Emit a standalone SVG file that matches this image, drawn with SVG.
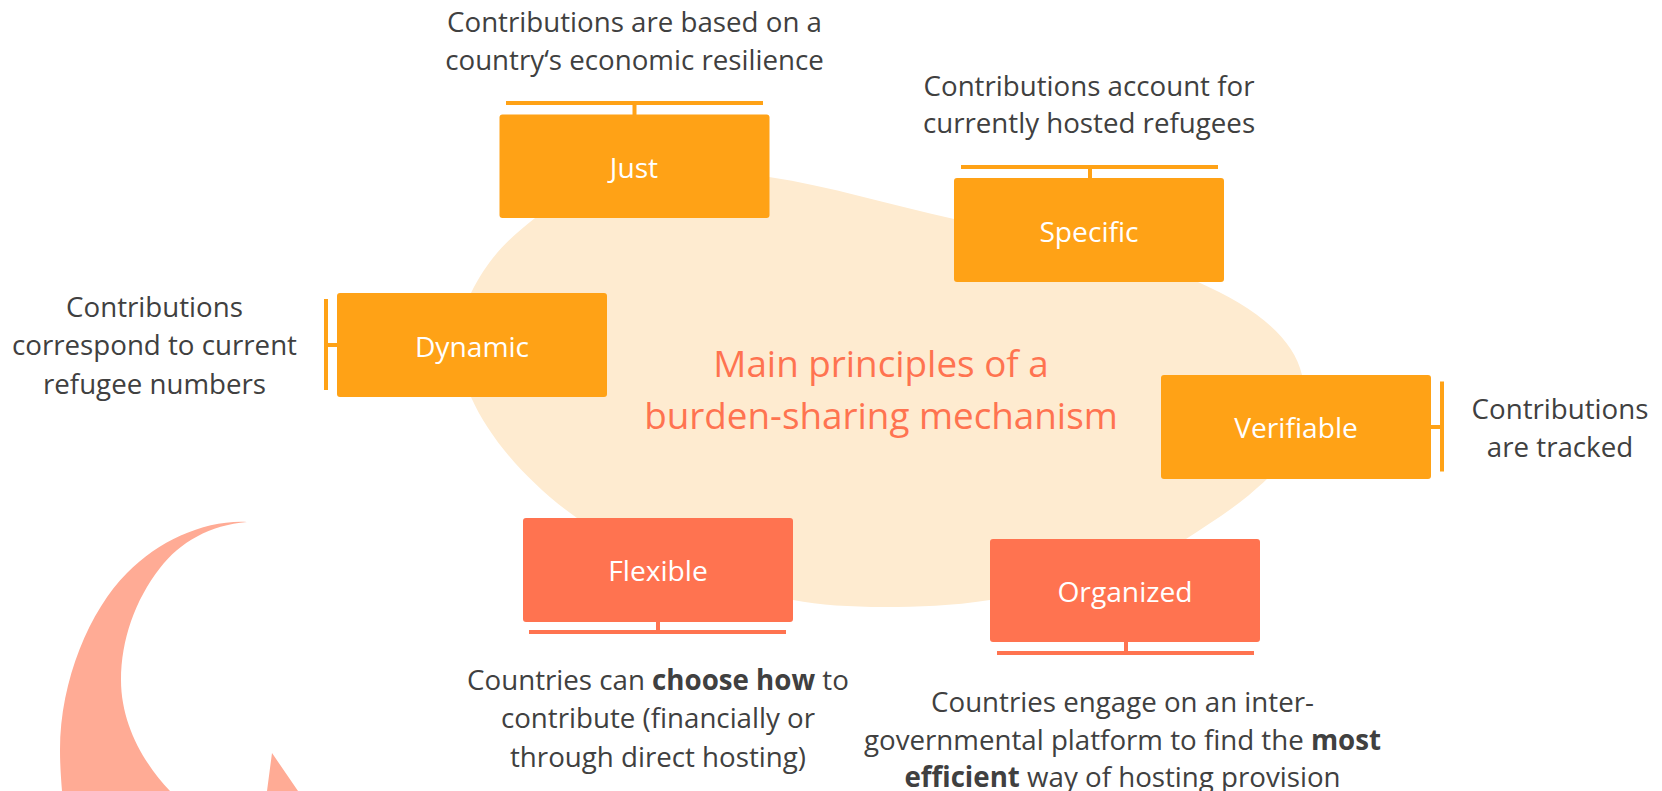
<svg xmlns="http://www.w3.org/2000/svg" width="1662" height="791" viewBox="0 0 1662 791">
<style>
text{font-family:"Open Sans","Noto Sans","Liberation Sans",sans-serif;text-anchor:middle}
.d{font-size:27.700px;fill:#404040}
.l{font-size:28.200px;fill:#fff}
.t{font-size:36.800px;fill:#ff7350}
.o{fill:#ffa216}
.r{fill:#ff7350}
.b{font-weight:700}
</style>
<rect width="1662" height="791" fill="#fff"/>
<path id="blob" fill="#feebd0" d="M471 293C490 255 510 238 535 218C590 178 690 165 769 177C830 186 890 205 954 219C1000 230 1110 245 1198 282C1250 305 1293 335 1302 375C1310 410 1293 445 1268 478C1240 505 1215 520 1186 539C1130 575 1060 590 990 600C950 606 920 607 884 607C850 607 820 605 793 600C700 585 630 555 577 518C530 485 490 440 471 397C460 365 455 325 471 293Z"/>
<path id="crescent" fill="#ffab95" d="M247 522C205 520 160 540 127 573C90 610 60 680 60 750C60 765 61 778 62 791H170C145 765 121 725 121 680C121 640 135 600 160 568C180 542 210 525 247 522ZM272 753L267 791H298Z"/>
<g id="connectors">
<g class="o">
<rect x="506" y="101" width="257" height="4"/><rect x="632.500" y="105" width="4" height="10"/>
<rect x="961" y="165" width="257" height="4"/><rect x="1088" y="169" width="4" height="10"/>
<rect x="324" y="299" width="4" height="91"/><rect x="328" y="343" width="9" height="4"/>
<rect x="1440" y="381.500" width="4" height="90"/><rect x="1431" y="425" width="9" height="4"/>
</g>
<g class="r">
<rect x="529" y="630" width="257" height="4"/><rect x="656" y="622" width="4" height="8"/>
<rect x="997" y="651" width="257" height="4"/><rect x="1124" y="642" width="4" height="9"/>
</g>
</g>
<g id="node-just"><rect class="o" x="499.500" y="114.500" width="270" height="103.500" rx="3"/><text class="l" x="634" y="178">Just</text></g>
<g id="node-specific"><rect class="o" x="954" y="178" width="270" height="104" rx="3"/><text class="l" x="1089" y="242">Specific</text></g>
<g id="node-dynamic"><rect class="o" x="337" y="293" width="270" height="104" rx="3"/><text class="l" x="472" y="357">Dynamic</text></g>
<g id="node-verifiable"><rect class="o" x="1161" y="375" width="270" height="104" rx="3"/><text class="l" x="1296" y="438">Verifiable</text></g>
<g id="node-flexible"><rect class="r" x="523" y="518" width="270" height="104" rx="3"/><text class="l" x="658" y="581">Flexible</text></g>
<g id="node-organized"><rect class="r" x="990" y="539" width="270" height="103" rx="3"/><text class="l" x="1125" y="602">Organized</text></g>
<g id="title"><text class="t" x="881" y="377">Main principles of a</text><text class="t" x="881" y="429">burden-sharing mechanism</text></g>
<g id="desc-just"><text class="d" x="634.500" y="32">Contributions are based on a</text><text class="d" x="634.500" y="70">country‘s economic resilience</text></g>
<g id="desc-specific"><text class="d" x="1089" y="96">Contributions account for</text><text class="d" x="1089" y="133">currently hosted refugees</text></g>
<g id="desc-dynamic"><text class="d" x="154.500" y="317">Contributions</text><text class="d" x="154.500" y="355">correspond to current</text><text class="d" x="154.500" y="394">refugee numbers</text></g>
<g id="desc-verifiable"><text class="d" x="1560" y="419">Contributions</text><text class="d" x="1560" y="457">are tracked</text></g>
<g id="desc-flexible"><text class="d" x="658" y="690">Countries can <tspan class="b">choose how</tspan> to</text><text class="d" x="658" y="728">contribute (financially or</text><text class="d" x="658" y="767">through direct hosting)</text></g>
<g id="desc-organized"><text class="d" x="1122.500" y="712">Countries engage on an inter-</text><text class="d" x="1122.500" y="750">governmental platform to find the <tspan class="b">most</tspan></text><text class="d" x="1122.500" y="787"><tspan class="b">efficient</tspan> way of hosting provision</text></g>
</svg>
